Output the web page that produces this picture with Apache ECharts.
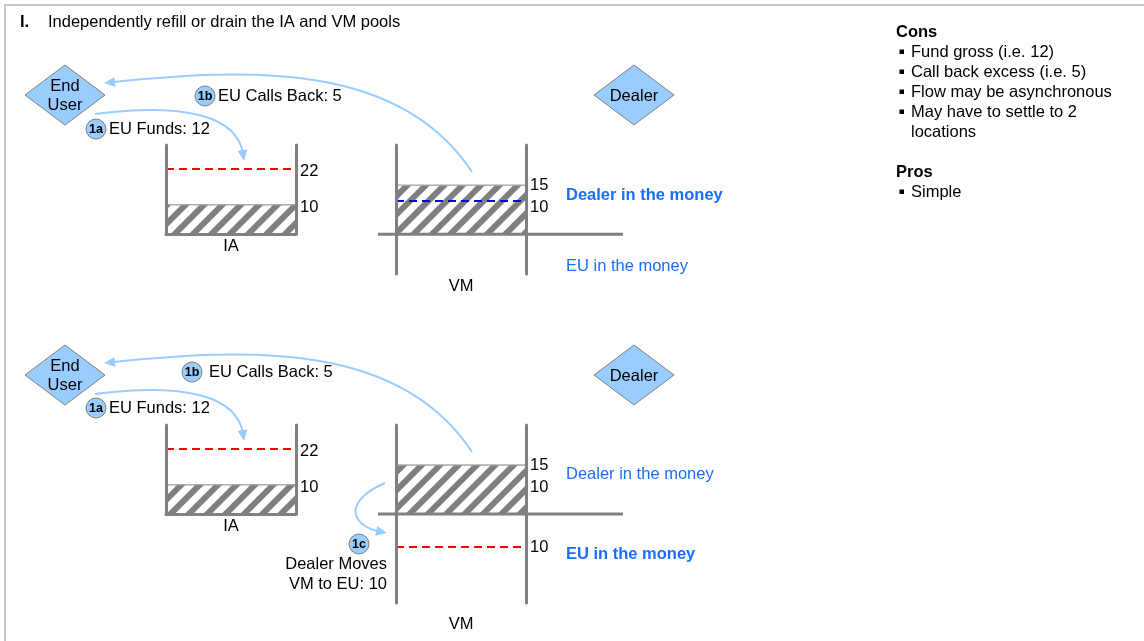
<!DOCTYPE html>
<html><head><meta charset="utf-8">
<script src="https://cdn.jsdelivr.net/npm/echarts@6/dist/echarts.min.js"></script>
<style>html,body{margin:0;padding:0;background:#fff}#c{width:1144px;height:641px}</style>
</head><body><div id="c"></div>
<script>
// ---------- data ----------
const poolNames = ['IA', 'VM'];
const iaBalance = [10, 10];          // IA pool level, top / bottom panel
const iaTarget = [22, 22];           // IA target (red dashed)
const vmBalance = [15, 15];          // VM pool level
const vmTarget = [10, -10];          // VM target (dashed), top / bottom panel
const vmTargetColor = ['#0000ff', '#ff0000'];
const iaTicks = [[10, 22], [10, 22]];
const vmTicks = [[15, 10], [15, 10, -10]];
const flowIds = ['1a', '1b', '1c'];
const flowNames = ['EU Funds', 'EU Calls Back', 'Dealer Moves\nVM to EU'];
const flowValues = [12, 5, 10];
const moneyLabels = ['Dealer in the money', 'EU in the money'];
const moneyBold = [0, 1];
const consItems = ['Fund gross (i.e. ' + flowValues[0] + ')', 'Call back excess (i.e. ' + flowValues[1] + ')', 'Flow may be asynchronous', 'May have to settle to 2\nlocations'];
const prosItems = ['Simple'];
const titleNum = 'I.';
const titleText = 'Independently refill or drain the ' + poolNames[0] + ' and ' + poolNames[1] + ' pools';

// ---------- layout / style ----------
const FONT = '"Liberation Sans", Arial, Helvetica, sans-serif';
const FS = 16.5;
const WALL = '#808080';
const BLUE_ARROW = '#99ccff';
const MONEY_BLUE = '#1a6eff';
const off = [0, 280];

const chart = echarts.init(document.getElementById('c'), null, {renderer: 'canvas'});

const grids = [], xAxes = [], yAxes = [], series = [];
const labelRich = {
  d0: {fontSize: FS, fontFamily: FONT, color: '#000', padding: [0, 0, 0, 0]},
  d1: {fontSize: FS, fontFamily: FONT, color: '#000', padding: [2, 0, 0, 0]},
  d3: {fontSize: FS, fontFamily: FONT, color: '#000', padding: [6, 0, 0, 0]},
  d6: {fontSize: FS, fontFamily: FONT, color: '#000', padding: [12, 0, 0, 0]}
};
function addPool(name, gridBox, min, max, ticks, level, target, targetColor, isVM, labelMargin) {
  const gi = grids.length;
  grids.push(Object.assign({containLabel: false}, gridBox));
  xAxes.push({
    gridIndex: gi, type: 'category', data: [name], z: 10,
    axisLine: {show: !isVM, onZero: false, lineStyle: {color: WALL, width: 3}},
    axisTick: {show: false}, splitLine: {show: false},
    axisLabel: {color: '#000', fontSize: FS, fontFamily: FONT, margin: labelMargin}
  });
  const yl = yAxes.length;
  yAxes.push({
    gridIndex: gi, type: 'value', min: min, max: max, position: 'left', z: 10,
    axisLine: {show: true, onZero: false, lineStyle: {color: WALL, width: 3}},
    axisTick: {show: false}, axisLabel: {show: false}, splitLine: {show: false}
  });
  yAxes.push({
    gridIndex: gi, type: 'value', min: min, max: max, position: 'right', z: 10,
    axisLine: {show: true, onZero: false, lineStyle: {color: WALL, width: 3}},
    axisTick: {show: false}, splitLine: {show: false},
    axisLabel: {show: true, customValues: ticks, margin: 4, rich: labelRich,
      formatter: function (v) {
        let k = 'd3';
        if (isVM) k = v === 15 ? 'd1' : (v > 0 ? 'd6' : 'd0');
        return '{' + k + '|' + Math.abs(v) + '}';
      }}
  });
  series.push({
    type: 'bar', xAxisIndex: gi, yAxisIndex: yl, data: [level], barWidth: '100%',
    silent: true, z: 2,
    itemStyle: {
      color: '#ffffff', borderColor: '#a8a8a8', borderWidth: 1,
      decal: {symbol: 'rect', symbolSize: 1, dashArrayX: [1, 0], dashArrayY: [6, 7],
        rotation: -Math.PI / 4, color: '#7f7f7f'}
    },
    markLine: {
      silent: true, symbol: ['none', 'none'], label: {show: false},
      lineStyle: {color: targetColor, type: [8, 5], width: 2},
      data: [{yAxis: target}]
    }
  });
}

for (let p = 0; p < 2; p++) {
  addPool(poolNames[0], {left: 166, top: 145 + off[p], width: 130, height: 89}, 0, 30,
    iaTicks[p], iaBalance[p], iaTarget[p], '#ff0000', false, 4);
}
addPool(poolNames[1], {left: 396, top: 145, width: 130, height: 129}, -12, 27,
  vmTicks[0], vmBalance[0], vmTarget[0], vmTargetColor[0], true, 4);
addPool(poolNames[1], {left: 396, top: 425, width: 130, height: 178}, -27, 27,
  vmTicks[1], vmBalance[1], vmTarget[1], vmTargetColor[1], true, 13);

chart.setOption({
  animation: false,
  grid: grids, xAxis: xAxes, yAxis: yAxes, series: series
});

// ---------- annotation graphics ----------
const g = [];
function txt(text, x, y, opt) {
  opt = opt || {};
  g.push({type: 'text', z: 20, silent: true, style: {
    text: text, x: x, y: y, fill: opt.fill || '#000',
    fontSize: opt.size || FS, fontFamily: FONT, fontWeight: opt.bold ? 'bold' : 'normal',
    align: opt.align || 'left', verticalAlign: 'middle', lineHeight: opt.lh || 20
  }});
}
function diamond(cx, cy, label) {
  g.push({type: 'polygon', z: 15, silent: true,
    shape: {points: [[cx, cy - 30], [cx + 40, cy], [cx, cy + 30], [cx - 40, cy]]},
    style: {fill: '#99ccff', stroke: '#7f7f7f', lineWidth: 1}});
  txt(label, cx, cy + 1, {align: 'center', lh: 19});
}
function arrow(p0, c1, c2, p3) {
  const dx = p3[0] - c2[0], dy = p3[1] - c2[1];
  const L = Math.hypot(dx, dy), ux = dx / L, uy = dy / L;
  const len = 11, w = 5;
  const bx = p3[0] - ux * len, by = p3[1] - uy * len;
  const ex = p3[0] - ux * len * 0.6, ey = p3[1] - uy * len * 0.6;
  g.push({type: 'bezierCurve', z: 12, silent: true,
    shape: {x1: p0[0], y1: p0[1], cpx1: c1[0], cpy1: c1[1], cpx2: c2[0], cpy2: c2[1], x2: ex, y2: ey},
    style: {stroke: BLUE_ARROW, lineWidth: 2, fill: null}});
  g.push({type: 'polygon', z: 12, silent: true,
    shape: {points: [p3, [bx - uy * w, by + ux * w], [bx + uy * w, by - ux * w]]},
    style: {fill: BLUE_ARROW}});
}
function badge(id, cx, cy) {
  g.push({type: 'circle', z: 15, silent: true, shape: {cx: cx, cy: cy, r: 10},
    style: {fill: '#99ccff', stroke: '#808080', lineWidth: 1}});
  txt(id, cx, cy + 0.5, {align: 'center', bold: true, size: 12.5});
}

// frame
g.push({type: 'line', silent: true, shape: {x1: 5, y1: 5, x2: 1144, y2: 5}, style: {stroke: '#c8c8c8', lineWidth: 2}});
g.push({type: 'line', silent: true, shape: {x1: 5, y1: 4, x2: 5, y2: 641}, style: {stroke: '#c8c8c8', lineWidth: 2}});

// title
txt(titleNum, 20, 22, {bold: true});
txt(titleText, 48, 22);

// panels
for (let p = 0; p < 2; p++) {
  const o = off[p];
  diamond(65, 95 + o, 'End\nUser');
  diamond(634, 95 + o, 'Dealer');
  // 1b: VM -> End User
  arrow([472, 172 + o], [400, 62 + o], [250, 68 + o], [104, 83 + o]);
  // 1a: End User -> IA
  arrow([95, 114 + o], [190, 102 + o], [238, 118 + o], [244, 161 + o]);
  const b1x = p === 0 ? 205 : 192;
  const b1y = p === 0 ? 96 : 372 - o;
  badge(flowIds[1], b1x, b1y + o);
  txt(flowNames[1] + ': ' + flowValues[1], b1x + (p === 0 ? 13 : 17), b1y + o);
  const b0y = p === 0 ? 129 : 408 - o;
  badge(flowIds[0], 96, b0y + o);
  txt(flowNames[0] + ': ' + flowValues[0], 109, b0y + o);
  // moneyness labels
  const ys = p === 0 ? [195, 266] : [474, 554];
  for (let k = 0; k < 2; k++) {
    txt(moneyLabels[k], 566, ys[k], {fill: MONEY_BLUE, bold: moneyBold[p] === k});
  }
}
// 1c: Dealer moves VM to EU
arrow([385, 483], [345, 500], [348, 525], [387, 533]);
badge(flowIds[2], 359, 544);
txt(flowNames[2] + ': ' + flowValues[2], 387, 574, {align: 'right', lh: 20});

// VM baselines (zero level extended beyond walls)
[2, 3].forEach(function (gi) {
  const y0 = chart.convertToPixel({xAxisIndex: gi, yAxisIndex: 2 * gi}, [poolNames[1], 0])[1];
  g.push({type: 'line', z: 11, silent: true, shape: {x1: 378, y1: y0, x2: 623, y2: y0},
    style: {stroke: WALL, lineWidth: 3}});
});

// cons / pros
txt('Cons', 896, 32, {bold: true});
let yy = 52;
consItems.forEach(function (s) {
  g.push({type: 'rect', silent: true, shape: {x: 899.5, y: yy - 2.5, width: 4.5, height: 4.5}, style: {fill: '#000'}});
  s.split('\n').forEach(function (l) { txt(l, 911, yy); yy += 20; });
});
txt('Pros', 896, 172, {bold: true});
yy = 192;
prosItems.forEach(function (s) {
  g.push({type: 'rect', silent: true, shape: {x: 899.5, y: yy - 2.5, width: 4.5, height: 4.5}, style: {fill: '#000'}});
  txt(s, 911, yy); yy += 20;
});

chart.setOption({graphic: g});
</script></body></html>
